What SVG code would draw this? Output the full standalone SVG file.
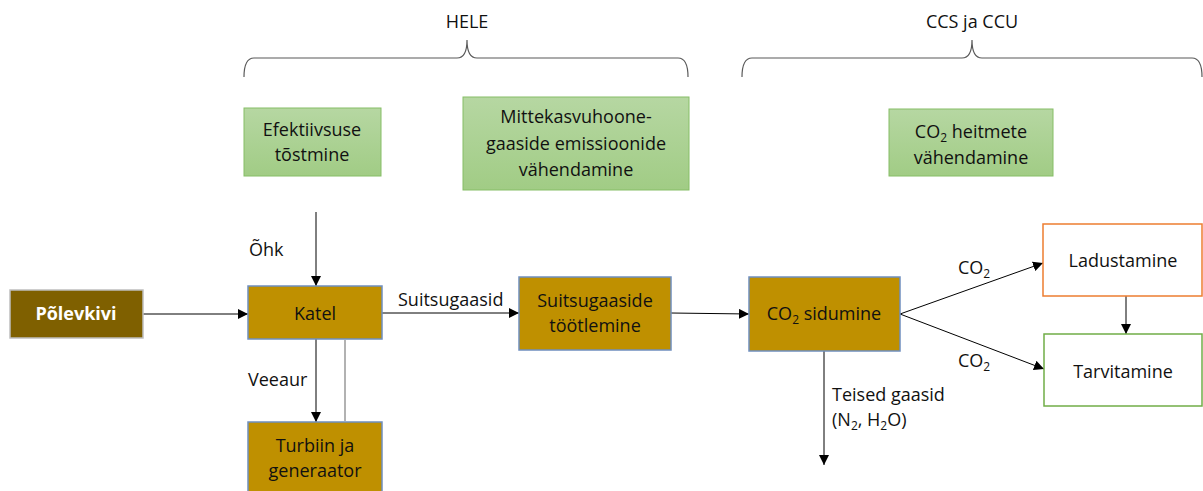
<svg xmlns="http://www.w3.org/2000/svg" width="1203" height="491" viewBox="0 0 1203 491">
<defs>
<linearGradient id="gg" x1="0" y1="0" x2="0" y2="1"><stop offset="0" stop-color="#B6D7A2"/><stop offset="1" stop-color="#A1CC85"/></linearGradient>
<marker id="ah" viewBox="0 0 10 10" refX="10" refY="5" markerWidth="10" markerHeight="10" markerUnits="userSpaceOnUse" orient="auto"><path d="M0,0 L10,5 L0,10 Z" fill="#000"/></marker>
</defs>
<style>
text{font-family:"Open Sans","Liberation Sans",sans-serif;font-size:18px;fill:#111;text-anchor:middle}
.l{text-anchor:start}
.green{fill:url(#gg);stroke:#86BE66;stroke-width:1}
.gold{fill:#BF9000;stroke:#6F8FBF;stroke-width:1.5}
.line{stroke:#000;stroke-width:1;fill:none}
.brace{stroke:#595959;stroke-width:1.2;fill:none}
</style>
<g id="braces">
<path class="brace" d="M244,77 Q244,58 254,58 L457,58 Q467,58 467,40 Q467,58 477,58 L678,58 Q688,58 688,77"/>
<path class="brace" d="M742,77 Q742,58 752,58 L962,58 Q972,58 972,40 Q972,58 982,58 L1192,58 Q1202,58 1202,77"/>
<text x="467" y="28">HELE</text>
<text x="972" y="28">CCS ja CCU</text>
</g>
<g id="connectors">
<path class="line" d="M143,314 L248,314" marker-end="url(#ah)"/>
<path class="line" d="M316,212 L316,286" marker-end="url(#ah)"/>
<path class="line" d="M316,339 L316,422" marker-end="url(#ah)"/>
<path d="M345,340 L345,421" stroke="#7F7F7F" stroke-width="1.2" fill="none"/>
<path class="line" d="M382,313 L519,313" marker-end="url(#ah)"/>
<path class="line" d="M671,313 L749,314" marker-end="url(#ah)"/>
<path class="line" d="M824,351 L824,465" marker-end="url(#ah)"/>
<path class="line" d="M900,314 L1043,263" marker-end="url(#ah)"/>
<path class="line" d="M900,314 L1044,369" marker-end="url(#ah)"/>
<path class="line" d="M1126,296 L1126,334" marker-end="url(#ah)"/>
<text class="l" x="249" y="256">Õhk</text>
<text class="l" x="248" y="386">Veeaur</text>
<text class="l" x="398" y="306">Suitsugaasid</text>
<text class="l" x="832" y="401">Teised gaasid</text>
<text class="l" x="832" y="426">(N<tspan font-size="12" dy="4">2</tspan><tspan dy="-4">, H</tspan><tspan font-size="12" dy="4">2</tspan><tspan dy="-4">O)</tspan></text>
<text class="l" x="958" y="274">CO<tspan font-size="12" dy="4">2</tspan></text>
<text class="l" x="958" y="367">CO<tspan font-size="12" dy="4">2</tspan></text>
</g>
<g id="n-efekt"><rect class="green" x="244" y="108" width="137" height="68"/><text x="312" y="136">Efektiivsuse</text><text x="312" y="161">tõstmine</text></g>
<g id="n-mitte"><rect class="green" x="463" y="97" width="226" height="93"/><text x="576" y="123">Mittekasvuhoone-</text><text x="576" y="150">gaaside emissioonide</text><text x="576" y="176">vähendamine</text></g>
<g id="n-co2h"><rect class="green" x="889" y="109" width="164" height="67"/><text x="971" y="138">CO<tspan font-size="12" dy="4">2</tspan><tspan dy="-4"> heitmete</tspan></text><text x="971" y="164">vähendamine</text></g>
<g id="n-polev"><rect x="10" y="290" width="133" height="48" fill="#7F6000" stroke="#BFBFBF" stroke-width="1.5"/><text x="76" y="320" style="fill:#fff;font-weight:bold">Põlevkivi</text></g>
<g id="n-katel"><rect class="gold" x="248" y="286" width="134" height="53"/><text x="315" y="320">Katel</text></g>
<g id="n-turbiin"><rect class="gold" x="248" y="422" width="134" height="75"/><text x="315" y="452">Turbiin ja</text><text x="315" y="477">generaator</text></g>
<g id="n-suits"><rect class="gold" x="519" y="277" width="152" height="73"/><text x="595" y="307">Suitsugaaside</text><text x="595" y="332">töötlemine</text></g>
<g id="n-co2s"><rect class="gold" x="749" y="277" width="151" height="74"/><text x="824" y="320">CO<tspan font-size="12" dy="4">2</tspan><tspan dy="-4"> sidumine</tspan></text></g>
<g id="n-ladu"><rect x="1043" y="224" width="159" height="72" fill="#fff" stroke="#ED7D31" stroke-width="1.5"/><text x="1123" y="267">Ladustamine</text></g>
<g id="n-tarv"><rect x="1044" y="334" width="158" height="72" fill="#fff" stroke="#70AD47" stroke-width="1.5"/><text x="1123" y="378">Tarvitamine</text></g>
</svg>
